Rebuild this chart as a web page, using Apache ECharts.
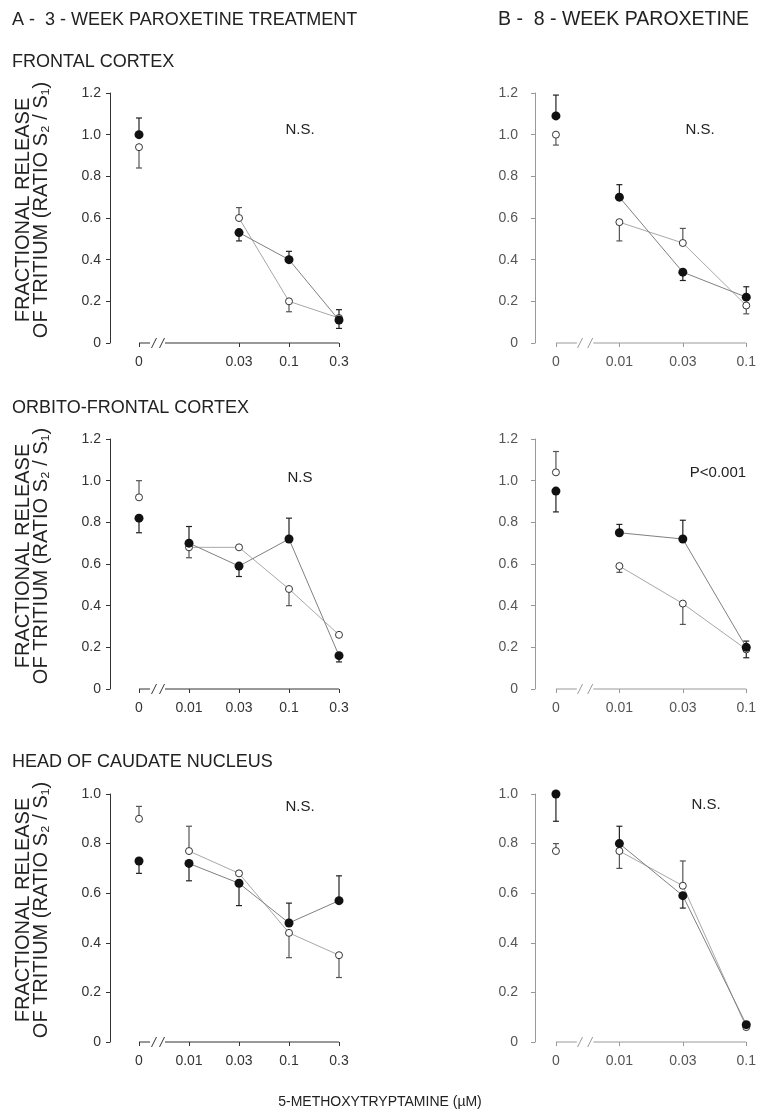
<!DOCTYPE html>
<html>
<head>
<meta charset="utf-8">
<script src="https://cdn.jsdelivr.net/npm/echarts@6/dist/echarts.min.js"></script>
<style>
  html, body { margin: 0; padding: 0; background: #fff; }
  #main { width: 759px; height: 1120px; }
</style>
</head>
<body>
<div id="main"></div>
<script>
// x categories (concentration of 5-methoxytryptamine, uM)
var catsA = ['0', '0.01', '0.03', '0.1', '0.3'];
var catsB = ['0', '0.01', '0.03', '0.1'];

// filled = black circles, open = white circles; err = [lower end, upper end]
// A - 3 week, frontal cortex (no 0.01 point)
var aFrontalFilled = [1.00, null, 0.53, 0.40, 0.11];
var aFrontalFilledErr = [[null, 1.08], null, [0.49, null], [null, 0.44], [0.07, 0.16]];
var aFrontalOpen = [0.94, null, 0.60, 0.20, 0.12];
var aFrontalOpenErr = [[0.84, null], null, [null, 0.65], [0.15, null], null];

// B - 8 week, frontal cortex
var bFrontalFilled = [1.09, 0.70, 0.34, 0.22];
var bFrontalFilledErr = [[null, 1.19], [null, 0.76], [0.30, null], [null, 0.27]];
var bFrontalOpen = [1.00, 0.58, 0.48, 0.18];
var bFrontalOpenErr = [[0.95, null], [0.49, null], [null, 0.55], [0.14, null]];

// A - orbito-frontal cortex
var aOrbitoFilled = [0.82, 0.70, 0.59, 0.72, 0.16];
var aOrbitoFilledErr = [[0.75, null], [null, 0.78], [0.54, null], [null, 0.82], [0.13, null]];
var aOrbitoOpen = [0.92, 0.68, 0.68, 0.48, 0.26];
var aOrbitoOpenErr = [[null, 1.00], [0.63, null], null, [0.40, null], null];

// B - orbito-frontal cortex
var bOrbitoFilled = [0.95, 0.75, 0.72, 0.20];
var bOrbitoFilledErr = [[0.85, null], [null, 0.79], [null, 0.81], [0.15, 0.23]];
var bOrbitoOpen = [1.04, 0.59, 0.41, 0.19];
var bOrbitoOpenErr = [[null, 1.14], [0.56, null], [0.31, null], null];

// A - head of caudate nucleus
var aCaudateFilled = [0.73, 0.72, 0.64, 0.48, 0.57];
var aCaudateFilledErr = [[0.68, null], [0.65, null], [0.55, null], [null, 0.56], [null, 0.67]];
var aCaudateOpen = [0.90, 0.77, 0.68, 0.44, 0.35];
var aCaudateOpenErr = [[null, 0.95], [null, 0.87], null, [0.34, null], [0.26, null]];

// B - head of caudate nucleus
var bCaudateFilled = [1.00, 0.80, 0.59, 0.07];
var bCaudateFilledErr = [[0.89, null], [null, 0.87], [0.54, null], null];
var bCaudateOpen = [0.77, 0.77, 0.63, 0.06];
var bCaudateOpenErr = [[null, 0.80], [0.70, null], [null, 0.73], null];

var statLabels = ['N.S.', 'N.S.', 'N.S', 'P<0.001', 'N.S.', 'N.S.'];

var FONT = '"Liberation Sans", Arial, Helvetica, sans-serif';

var panels = [
  {col: 'A', top: 93, height: 250, max: 1.2, cats: catsA, filled: aFrontalFilled, filledErr: aFrontalFilledErr, open: aFrontalOpen, openErr: aFrontalOpenErr, stat: [300, 130]},
  {col: 'B', top: 93, height: 250, max: 1.2, cats: catsB, filled: bFrontalFilled, filledErr: bFrontalFilledErr, open: bFrontalOpen, openErr: bFrontalOpenErr, stat: [700, 130]},
  {col: 'A', top: 439, height: 250, max: 1.2, cats: catsA, filled: aOrbitoFilled, filledErr: aOrbitoFilledErr, open: aOrbitoOpen, openErr: aOrbitoOpenErr, stat: [300, 478]},
  {col: 'B', top: 439, height: 250, max: 1.2, cats: catsB, filled: bOrbitoFilled, filledErr: bOrbitoFilledErr, open: bOrbitoOpen, openErr: bOrbitoOpenErr, stat: [718, 473]},
  {col: 'A', top: 794, height: 248, max: 1.0, cats: catsA, filled: aCaudateFilled, filledErr: aCaudateFilledErr, open: aCaudateOpen, openErr: aCaudateOpenErr, stat: [300, 807]},
  {col: 'B', top: 794, height: 248, max: 1.0, cats: catsB, filled: bCaudateFilled, filledErr: bCaudateFilledErr, open: bCaudateOpen, openErr: bCaudateOpenErr, stat: [706, 805]}
];

// geometry of the two columns (x in index units)
var colSpec = {
  A: {left: 110, min: -0.58, max: 4.2, step: 50, brk: [0.22, 0.30, 0.46, 0.52], axisColor: '#333', labelColor: '#333', labelMargin: 9},
  B: {left: 535, min: -0.33, max: 3.1, step: 64, brk: [0.33, 0.38, 0.54, 0.59], axisColor: '#999', labelColor: '#555', labelMargin: 17}
};

function toPoints(vals) {
  var out = [];
  vals.forEach(function (v, i) { if (v != null) out.push([i, v]); });
  return out;
}

function errItems(vals, errs) {
  var out = [];
  errs.forEach(function (e, i) {
    if (!e) return;
    if (e[0] != null) out.push([i, vals[i], e[0]]);
    if (e[1] != null) out.push([i, vals[i], e[1]]);
  });
  return out;
}

function renderErr(color) {
  return function (params, api) {
    var p0 = api.coord([api.value(0), api.value(1)]);
    var p1 = api.coord([api.value(0), api.value(2)]);
    return {
      type: 'group',
      children: [
        {type: 'line', shape: {x1: p0[0], y1: p0[1], x2: p1[0], y2: p1[1]}, style: {stroke: color, lineWidth: 1.2}},
        {type: 'line', shape: {x1: p1[0] - 3, y1: p1[1], x2: p1[0] + 3, y2: p1[1]}, style: {stroke: color, lineWidth: 1.2}}
      ]
    };
  };
}

function renderAxis(spec, lastIdx) {
  return function (params, api) {
    var b = spec.brk;
    var a0 = api.coord([0, 0]);
    var a1 = api.coord([b[0], 0]);
    var s1 = api.coord([b[1], 0]);
    var s2 = api.coord([b[2], 0]);
    var a2 = api.coord([b[3], 0]);
    var a3 = api.coord([lastIdx, 0]);
    var st = {stroke: spec.axisColor, lineWidth: 1};
    return {
      type: 'group',
      children: [
        {type: 'line', shape: {x1: a0[0], y1: a0[1], x2: a1[0], y2: a1[1]}, style: st},
        {type: 'line', shape: {x1: s1[0] - 2.5, y1: s1[1] + 5, x2: s1[0] + 2.5, y2: s1[1] - 5}, style: st},
        {type: 'line', shape: {x1: s2[0] - 2.5, y1: s2[1] + 5, x2: s2[0] + 2.5, y2: s2[1] - 5}, style: st},
        {type: 'line', shape: {x1: a2[0], y1: a2[1], x2: a3[0], y2: a3[1]}, style: st}
      ]
    };
  };
}

var grids = [], xAxes = [], yAxes = [], series = [], graphics = [];

panels.forEach(function (p, k) {
  var spec = colSpec[p.col];
  var width = (spec.max - spec.min) * spec.step;
  grids.push({left: spec.left, top: p.top, width: width, height: p.height});

  var idx = [];
  p.cats.forEach(function (c, i) {
    if (p.filled[i] != null || p.open[i] != null) idx.push(i);
  });

  xAxes.push({
    type: 'value', gridIndex: k, min: spec.min, max: spec.max,
    axisLine: {show: false},
    splitLine: {show: false},
    axisTick: {show: true, customValues: idx, length: 4, lineStyle: {color: spec.axisColor}},
    axisLabel: {
      customValues: idx, margin: 12, color: spec.labelColor, fontSize: 14, fontFamily: FONT,
      formatter: function (v) { return p.cats[Math.round(v)]; }
    }
  });
  yAxes.push({
    type: 'value', gridIndex: k, min: 0, max: p.max, interval: 0.2,
    axisLine: {show: true, onZero: false, lineStyle: {color: spec.axisColor}},
    axisTick: {show: true, length: 4, lineStyle: {color: spec.axisColor}},
    splitLine: {show: false},
    axisLabel: {
      margin: spec.labelMargin, color: spec.labelColor, fontSize: 14, fontFamily: FONT,
      formatter: function (v) { return v === 0 ? '0' : v.toFixed(1); }
    }
  });

  var lastIdx = p.cats.length - 1;
  series.push({
    type: 'custom', xAxisIndex: k, yAxisIndex: k, data: [[0, 0]], silent: true, clip: false, z: 1,
    renderItem: renderAxis(spec, lastIdx)
  });

  var fLine = toPoints(p.filled).filter(function (d) { return d[0] > 0; });
  var oLine = toPoints(p.open).filter(function (d) { return d[0] > 0; });
  series.push({type: 'line', xAxisIndex: k, yAxisIndex: k, data: oLine, showSymbol: false, z: 2,
    lineStyle: {color: '#a8a8a8', width: 1}});
  series.push({type: 'line', xAxisIndex: k, yAxisIndex: k, data: fLine, showSymbol: false, z: 2,
    lineStyle: {color: '#808080', width: 1}});

  series.push({type: 'custom', xAxisIndex: k, yAxisIndex: k, data: errItems(p.open, p.openErr), z: 3, clip: false,
    renderItem: renderErr('#555')});
  series.push({type: 'custom', xAxisIndex: k, yAxisIndex: k, data: errItems(p.filled, p.filledErr), z: 3, clip: false,
    renderItem: renderErr('#222')});

  series.push({type: 'scatter', xAxisIndex: k, yAxisIndex: k, data: toPoints(p.open), symbolSize: 7, z: 4, clip: false,
    itemStyle: {color: '#fff', borderColor: '#333', borderWidth: 1, opacity: 1}});
  series.push({type: 'scatter', xAxisIndex: k, yAxisIndex: k, data: toPoints(p.filled), symbolSize: 9, z: 5, clip: false,
    itemStyle: {color: '#111', opacity: 1}});

  graphics.push({
    type: 'text', x: p.stat[0], y: p.stat[1],
    style: {text: statLabels[k], fill: '#222', font: '15px ' + FONT, align: 'center', verticalAlign: 'middle'}
  });

  if (p.col === 'A') {
    graphics.push({
      type: 'text', x: 32, y: p.top + p.height / 2 - 8, rotation: Math.PI / 2,
      style: {
        text: 'FRACTIONAL RELEASE\nOF TRITIUM (RATIO S\u2082 / S\u2081)',
        fill: '#222', font: '20px ' + FONT, lineHeight: 18, align: 'center', verticalAlign: 'middle'
      }
    });
  }
});

var headings = [
  ['A -  3 - WEEK PAROXETINE TREATMENT', 12, 20, 18],
  ['B -  8 - WEEK PAROXETINE', 498, 20, 19.5],
  ['FRONTAL CORTEX', 12, 62, 18],
  ['ORBITO-FRONTAL CORTEX', 12, 408, 18],
  ['HEAD OF CAUDATE NUCLEUS', 12, 762, 18]
];
headings.forEach(function (h) {
  graphics.push({
    type: 'text', x: h[1], y: h[2],
    style: {text: h[0], fill: '#222', font: h[3] + 'px ' + FONT, align: 'left', verticalAlign: 'middle'}
  });
});
graphics.push({
  type: 'text', x: 380, y: 1102,
  style: {text: '5-METHOXYTRYPTAMINE (\u00b5M)', fill: '#222', font: '14px ' + FONT, align: 'center', verticalAlign: 'middle'}
});

var myChart = echarts.init(document.getElementById('main'), null, {renderer: 'canvas'});
myChart.setOption({
  animation: false,
  backgroundColor: '#fff',
  grid: grids,
  xAxis: xAxes,
  yAxis: yAxes,
  series: series,
  graphic: graphics
});
</script>
</body>
</html>
